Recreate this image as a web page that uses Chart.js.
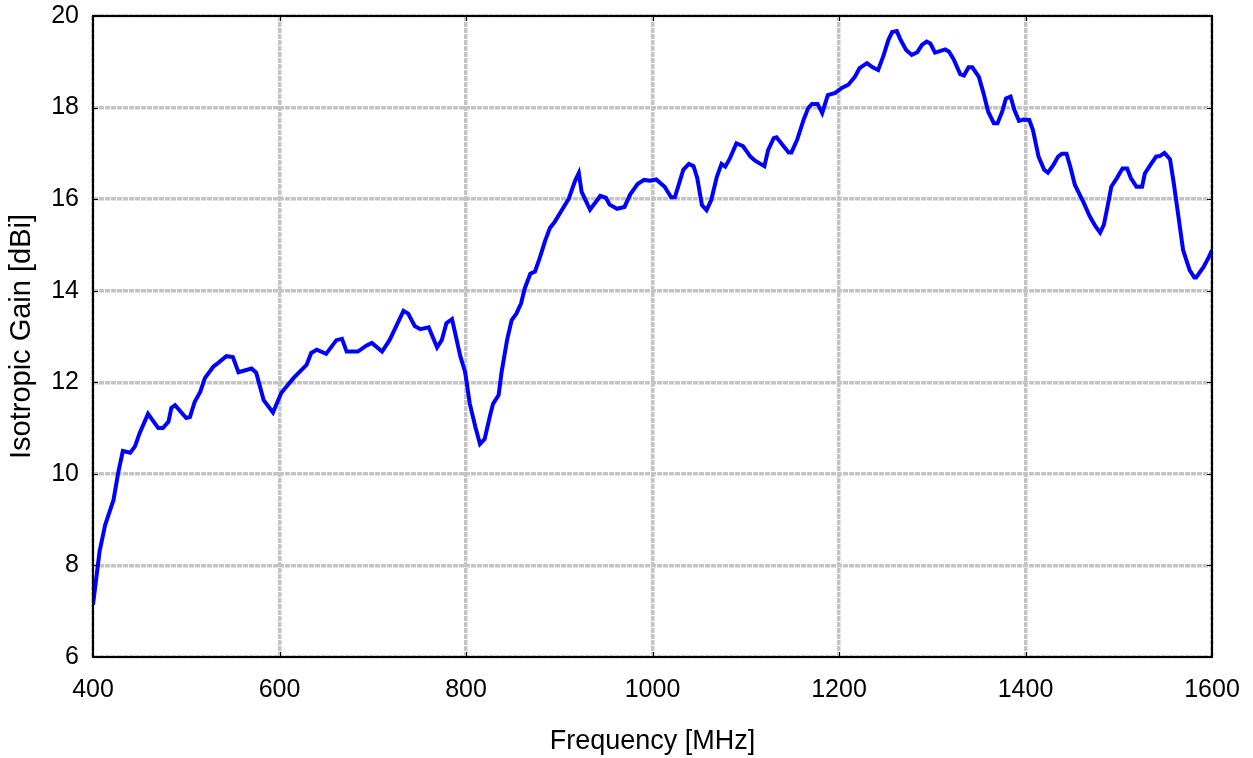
<!DOCTYPE html>
<html>
<head>
<meta charset="utf-8">
<script src="https://cdn.jsdelivr.net/npm/chart.js@4"></script>
<style>
  html, body { margin: 0; padding: 0; background: #fff; }
  #wrap { width: 1253px; height: 758px; }
</style>
</head>
<body>
<div id="wrap"><canvas id="gainChart" width="1253" height="758"></canvas></div>
<script>
// frequency [MHz] and gain [dBi]
const freq = [400, 407, 413, 422, 427, 432, 440, 445, 450, 459, 470, 475, 481, 484, 488, 500, 504, 509, 515, 520,
  529, 534, 543, 550, 556, 570, 575, 583, 593, 602, 615, 629, 634, 640, 650, 661, 667, 672, 684, 693,
  699, 710, 718, 733, 738, 745, 751, 760, 769, 774, 779, 785, 788, 794, 799, 804, 810, 815, 820, 826,
  829, 835, 838, 844, 849, 854, 859, 863, 869, 874, 879, 885, 890, 895, 903, 910, 917, 921, 924, 933,
  944, 950, 954, 962, 970, 976, 984, 991, 997, 1004, 1013, 1020, 1024, 1033, 1039, 1044, 1048, 1053, 1058, 1063,
  1069, 1074, 1078, 1083, 1090, 1097, 1105, 1110, 1120, 1124, 1130, 1133, 1146, 1149, 1155, 1162, 1167, 1171, 1177, 1182,
  1188, 1196, 1203, 1210, 1217, 1222, 1230, 1236, 1242, 1248, 1253, 1257, 1262, 1266, 1272, 1278, 1284, 1289, 1294, 1298,
  1303, 1314, 1318, 1323, 1330, 1334, 1339, 1343, 1350, 1355, 1360, 1366, 1370, 1375, 1379, 1384, 1388, 1393, 1398, 1404,
  1408, 1414, 1420, 1424, 1430, 1435, 1439, 1444, 1448, 1453, 1462, 1469, 1475, 1480, 1484, 1488, 1492, 1498, 1504, 1509,
  1513, 1519, 1525, 1528, 1534, 1540, 1544, 1549, 1555, 1559, 1564, 1569, 1576, 1581, 1583, 1591, 1596, 1600];
const gain = [7.14, 8.3, 8.88, 9.43, 10.02, 10.5, 10.46, 10.6, 10.89, 11.31, 11.0, 11.0, 11.14, 11.44, 11.5, 11.22, 11.24, 11.57, 11.79, 12.09,
  12.34, 12.42, 12.57, 12.55, 12.22, 12.3, 12.21, 11.61, 11.34, 11.77, 12.09, 12.38, 12.64, 12.71, 12.62, 12.92, 12.95, 12.67, 12.67, 12.8,
  12.86, 12.67, 12.92, 13.56, 13.5, 13.23, 13.16, 13.2, 12.76, 12.92, 13.29, 13.38, 13.11, 12.56, 12.23, 11.54, 11.03, 10.65, 10.76, 11.29,
  11.53, 11.72, 12.2, 12.92, 13.36, 13.5, 13.72, 14.05, 14.37, 14.42, 14.71, 15.1, 15.37, 15.5, 15.77, 16.0, 16.4, 16.57, 16.16, 15.77,
  16.07, 16.03, 15.88, 15.79, 15.83, 16.1, 16.33, 16.42, 16.4, 16.43, 16.27, 16.04, 16.04, 16.64, 16.77, 16.72, 16.46, 15.87, 15.76, 15.98,
  16.49, 16.77, 16.71, 16.89, 17.22, 17.16, 16.93, 16.84, 16.72, 17.07, 17.33, 17.35, 17.02, 17.02, 17.29, 17.73, 17.99, 18.08, 18.08, 17.88,
  18.27, 18.32, 18.43, 18.5, 18.67, 18.86, 18.97, 18.88, 18.82, 19.15, 19.48, 19.65, 19.67, 19.48, 19.26, 19.15, 19.21, 19.37, 19.44, 19.4,
  19.2, 19.27, 19.22, 19.05, 18.73, 18.7, 18.88, 18.88, 18.67, 18.31, 17.91, 17.66, 17.66, 17.91, 18.2, 18.24, 17.95, 17.71, 17.74, 17.73,
  17.51, 16.93, 16.64, 16.58, 16.75, 16.93, 16.99, 16.99, 16.71, 16.31, 15.94, 15.62, 15.41, 15.27, 15.44, 15.84, 16.27, 16.46, 16.67, 16.67,
  16.46, 16.27, 16.27, 16.56, 16.75, 16.93, 16.94, 17.01, 16.87, 16.35, 15.62, 14.89, 14.45, 14.29, 14.29, 14.52, 14.71, 14.89];

const points = freq.map((f, i) => ({ x: f, y: gain[i] }));

// black frame round the plot plus short inner tick marks
const framePlugin = {
  id: 'frame',
  afterDraw(chart) {
    const { ctx, chartArea: a, scales } = chart;
    ctx.save();
    ctx.strokeStyle = '#000';
    ctx.lineWidth = 1;
    ctx.beginPath();
    scales.x.ticks.forEach(t => {
      const px = Math.round(scales.x.getPixelForValue(t.value)) + 0.5;
      ctx.moveTo(px, a.bottom); ctx.lineTo(px, a.bottom - 5);
      ctx.moveTo(px, a.top); ctx.lineTo(px, a.top + 5);
    });
    scales.y.ticks.forEach(t => {
      const py = Math.round(scales.y.getPixelForValue(t.value)) + 0.5;
      ctx.moveTo(a.left, py); ctx.lineTo(a.left + 5, py);
      ctx.moveTo(a.right, py); ctx.lineTo(a.right - 5, py);
    });
    ctx.stroke();
    ctx.lineWidth = 2;
    ctx.strokeRect(a.left, a.top, a.right - a.left, a.bottom - a.top);
    ctx.restore();
  }
};

const tickFont = { family: 'Liberation Sans, Arial, sans-serif', size: 25 };
const xTitleFont = { family: 'Liberation Sans, Arial, sans-serif', size: 27 };
const yTitleFont = { family: 'Liberation Sans, Arial, sans-serif', size: 29 };
const gridOpts = {
  color: '#c4c4c4',
  lineWidth: 3.5,
  tickLength: 0,
  drawTicks: false
};

let ctx = document.querySelector('#gainChart').getContext('2d');
let gainChart = new Chart(ctx, {
  type: 'line',
  data: {
    datasets: [{
      label: 'Isotropic Gain',
      data: points,
      borderColor: '#0000ff',
      borderWidth: 4,
      pointRadius: 0,
      tension: 0,
      fill: false
    }]
  },
  options: {
    responsive: false,
    animation: false,
    layout: { padding: { top: 16, right: 41, left: 0, bottom: 0 } },
    plugins: { legend: { display: false }, tooltip: { enabled: false } },
    scales: {
      x: {
        type: 'linear',
        min: 400,
        max: 1600,
        border: { display: false, dash: [5, 1] },
        grid: gridOpts,
        ticks: { stepSize: 200, color: '#000', font: tickFont, padding: 18, maxRotation: 0,
          callback: v => String(v) },
        title: { display: true, text: 'Frequency [MHz]', color: '#000', font: xTitleFont, padding: { top: 0, bottom: 0 } },
        afterFit(scale) {
          scale.height = 101;
          scale.paddingLeft = 0;
          scale.paddingRight = 0;
        }
      },
      y: {
        min: 6,
        max: 20,
        border: { display: false, dash: [5, 1] },
        grid: gridOpts,
        ticks: { stepSize: 2, color: '#000', font: tickFont, padding: 14, callback: v => String(v) },
        title: { display: true, text: 'Isotropic Gain [dBi]', color: '#000', font: yTitleFont, padding: { top: 5, bottom: 0 } },
        afterFit(scale) {
          scale.width = 93;
          scale.paddingTop = 0;
          scale.paddingBottom = 0;
        }
      }
    }
  },
  plugins: [framePlugin]
});
</script>
</body>
</html>
